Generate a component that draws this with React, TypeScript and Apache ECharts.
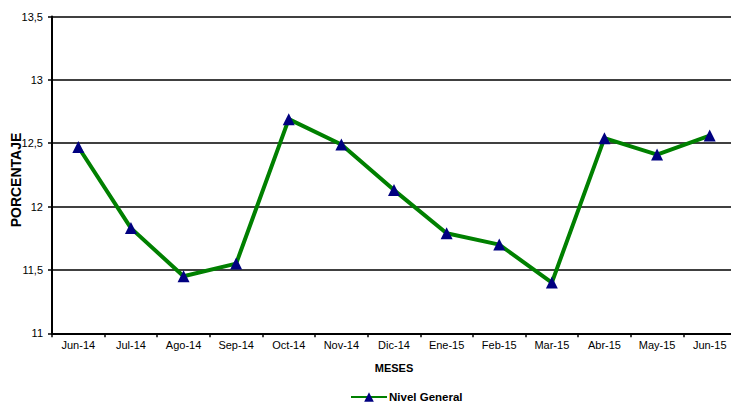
import React, { useEffect, useRef } from "react";
import * as echarts from "echarts";

const categories = ["Jun-14", "Jul-14", "Ago-14", "Sep-14", "Oct-14", "Nov-14", "Dic-14", "Ene-15", "Feb-15", "Mar-15", "Abr-15", "May-15", "Jun-15"];
const nivelGeneral = [12.47, 11.83, 11.45, 11.55, 12.69, 12.49, 12.13, 11.79, 11.7, 11.4, 12.54, 12.41, 12.56];
const seriesName = "Nivel General";
const xAxisName = "MESES";
const yAxisName = "PORCENTAJE";

export default function App() {
  const ref = useRef<HTMLDivElement>(null);
  useEffect(() => {
    if (!ref.current) return;
    const chart = echarts.init(ref.current, null, { renderer: "svg" });
    const font = "'Liberation Sans', Arial, sans-serif";
    chart.setOption({
      animation: false,
      backgroundColor: "#fff",
      textStyle: { fontFamily: font },
      grid: { left: 52, right: -5, top: 16.5, bottom: 69.7, outerBoundsMode: "none" },
      legend: {
        data: [seriesName],
        left: 350,
        top: 391,
        itemWidth: 36,
        itemHeight: 12,
        itemGap: 0,
        textStyle: { fontFamily: font, fontSize: 11.5, fontWeight: "bold", color: "#000", padding: [0, 0, 0, -3] },
        padding: 0,
      },
      graphic: [
        {
          type: "text",
          x: 16,
          y: 180,
          rotation: Math.PI / 2,
          style: {
            text: yAxisName,
            font: `bold 14px ${font}`,
            fill: "#000",
            align: "center",
            verticalAlign: "middle",
          },
        },
      ],
      xAxis: {
        type: "category",
        data: categories,
        boundaryGap: true,
        name: xAxisName,
        nameLocation: "middle",
        nameGap: 29,
        nameTextStyle: { fontFamily: font, fontSize: 11, fontWeight: "bold", color: "#000" },
        axisLine: { lineStyle: { color: "#000", width: 2 } },
        axisTick: { show: true, length: 4, lineStyle: { color: "#000", width: 1.5 } },
        axisLabel: { color: "#000", fontSize: 11, fontFamily: font, margin: 6, interval: 0 },
        splitLine: { show: false },
      },
      yAxis: {
        type: "value",
        min: 11,
        max: 13.5,
        interval: 0.5,
        axisLine: { show: true, lineStyle: { color: "#000", width: 2 } },
        axisTick: { show: true, length: 4, lineStyle: { color: "#000", width: 1.5 } },
        axisLabel: {
          color: "#000",
          fontSize: 11,
          fontFamily: font,
          margin: 9,
          formatter: (v: number) => String(v).replace(".", ","),
        },
        splitLine: { show: true, lineStyle: { color: "#000", width: 1.5 } },
      },
      series: [
        {
          name: seriesName,
          type: "line",
          data: nivelGeneral,
          symbol: "triangle",
          symbolSize: 12,
          lineStyle: { color: "#008000", width: 4 },
          itemStyle: { color: "#000080", borderWidth: 0 },
        },
      ],
    });
    return () => chart.dispose();
  }, []);
  return <div ref={ref} style={{ position: "fixed", left: 0, top: 0, width: 731, height: 403 }} />;
}
